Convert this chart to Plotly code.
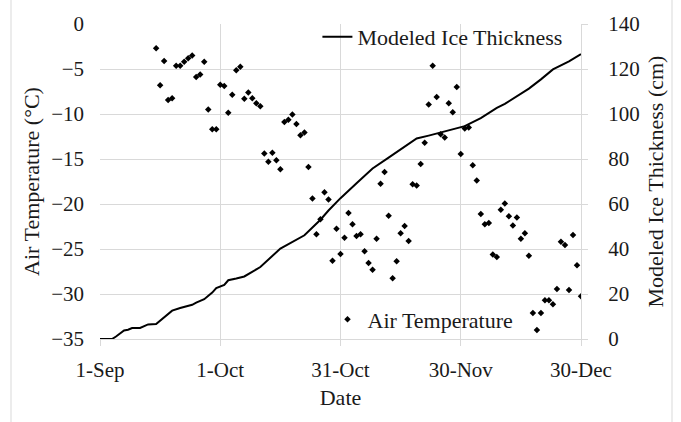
import pandas as pd
import plotly.graph_objects as go

# Daily air temperature (°C), starting 15 September
temp_start = "2017-09-15"
air_temp = [
    -2.7, -6.8, -4.1, -8.45, -8.25, -4.65, -4.65, -4.2, -3.8, -3.5,
    -5.9, -5.6, -4.2, -9.5, -11.7, -11.7, -6.75, -6.9, -9.85, -7.85,
    -5.15, -4.75, -8.3, -7.6, -8.25, -8.8, -9.15, -14.4, -15.3, -14.3,
    -15.15, -16.15, -10.9, -10.65, -10.05, -11.1, -12.35, -12.05, -15.9, -19.4,
    -23.35, -21.7, -18.7, -19.5, -26.3, -22.75, -25.55, -23.75, -21.0, -22.25,
    -23.55, -23.35, -25.25, -26.55, -27.3, -23.85, -17.75, -16.45, -21.3, -28.25,
    -26.35, -23.25, -22.45, -24.1, -17.8, -17.95, -15.55, -13.2, -8.95, -4.65,
    -8.1, -12.25, -12.6, -8.8, -9.8, -7.0, -14.45, -11.6, -11.5, -15.7,
    -17.4, -21.1, -22.25, -22.1, -25.6, -25.9, -20.65, -19.95, -21.35, -22.4,
    -21.5, -23.85, -23.25, -25.75, -32.1, -34.0, -32.1, -30.7, -30.7, -31.15,
    -29.45, -24.2, -24.55, -29.55, -23.45, -26.8, -30.25,
]

# Modeled ice thickness (cm) by day since 1 September
season_start = "2017-09-01"
ice_day = [0, 3, 4, 5, 6, 7, 8, 10, 11, 12, 14, 15, 16, 18, 20, 23, 24, 26, 28, 29,
           31, 32, 34, 36, 40, 45, 51, 55, 57, 60, 64, 68, 72, 76, 79, 82, 85, 88,
           91, 95, 99, 101, 104, 107, 110, 113, 117, 120]
ice_cm = [0, 0, 1.1, 2.3, 3.8, 4.1, 4.9, 4.9, 5.7, 6.5, 6.7, 8.2, 9.4, 12.6, 13.8,
          15.2, 16.2, 17.7, 20.6, 22.6, 24.0, 26.1, 26.9, 27.8, 32.0, 40.2, 46.1,
          53.0, 57.1, 62.6, 69.2, 75.8, 80.6, 85.6, 89.1, 90.4, 91.8, 93.0, 94.6,
          98.2, 102.7, 104.5, 108.0, 111.3, 115.4, 119.8, 123.4, 126.6]

# Date axis ticks
tick_dates = ["2017-09-01", "2017-10-01", "2017-10-31", "2017-11-30", "2017-12-30"]
tick_labels = ["1-Sep", "1-Oct", "31-Oct", "30-Nov", "30-Dec"]

temp_dates = pd.date_range(temp_start, periods=len(air_temp), freq="D")
ice_dates = [pd.Timestamp(season_start) + pd.Timedelta(days=d) for d in ice_day]

FONT = "'Liberation Serif', 'Times New Roman', serif"
TXT = "#1a1a1a"
GRID = "#d9d9d9"
TICK_FONT = dict(family=FONT, size=21, color=TXT)
TEXT_FONT = dict(family=FONT, size=22, color=TXT)

fig = go.Figure()
fig.add_trace(go.Scatter(
    x=ice_dates, y=ice_cm, yaxis="y2", mode="lines",
    name="Modeled Ice Thickness", line=dict(color="black", width=2),
    legend="legend", showlegend=True,
))
fig.add_trace(go.Scatter(
    x=temp_dates, y=air_temp, yaxis="y", mode="markers",
    name="Air Temperature",
    marker=dict(symbol="diamond", size=5, color="black"),
    legend="legend2", showlegend=True,
))

fig.update_layout(
    width=681, height=422,
    margin=dict(l=100, r=100, t=21, b=83),
    paper_bgcolor="white", plot_bgcolor="white",
    font=dict(family=FONT, size=21, color=TXT),
    showlegend=True,
    xaxis=dict(
        type="date", range=[tick_dates[0], tick_dates[-1]],
        tickmode="array", tickvals=tick_dates, ticktext=tick_labels,
        showgrid=True, gridcolor=GRID, gridwidth=1,
        showline=True, linecolor=GRID, linewidth=1,
        ticks="outside", ticklen=6, tickcolor=GRID,
        ticklabelstandoff=6,
        tickfont=TICK_FONT,
        title=dict(text="Date", font=TEXT_FONT, standoff=8),
        zeroline=False,
    ),
    yaxis=dict(
        range=[-35, 0], dtick=5, tick0=0,
        showgrid=True, gridcolor=GRID, gridwidth=1,
        zeroline=False, showline=False, ticks="",
        ticklabelstandoff=15,
        tickfont=TICK_FONT,
        title=dict(text="Air Temperature (°C)", font=TEXT_FONT, standoff=5),
    ),
    yaxis2=dict(
        overlaying="y", side="right", range=[0, 140], dtick=20,
        showgrid=False, zeroline=False,
        showline=True, linecolor=GRID, linewidth=1,
        ticks="outside", ticklen=6, tickcolor=GRID,
        ticklabelstandoff=16,
        tickfont=TICK_FONT,
        title=dict(text="Modeled Ice Thickness (cm)", font=TEXT_FONT, standoff=8),
    ),
    legend=dict(
        visible=True,
        x=0.452, xanchor="left", y=0.959, yanchor="middle",
        bgcolor="rgba(0,0,0,0)", font=TEXT_FONT,
    ),
    legend2=dict(
        visible=True,
        x=0.473, xanchor="left", y=0.062, yanchor="middle",
        bgcolor="rgba(0,0,0,0)", font=TEXT_FONT,
    ),
    shapes=[dict(
        type="rect", xref="paper", yref="paper",
        x0=(11 - 100) / 481, x1=(672 - 100) / 481, y0=-0.4, y1=1.2,
        line=dict(color=GRID, width=1), fillcolor="rgba(0,0,0,0)", layer="below",
    )],
)

fig.write_html("out.html")
